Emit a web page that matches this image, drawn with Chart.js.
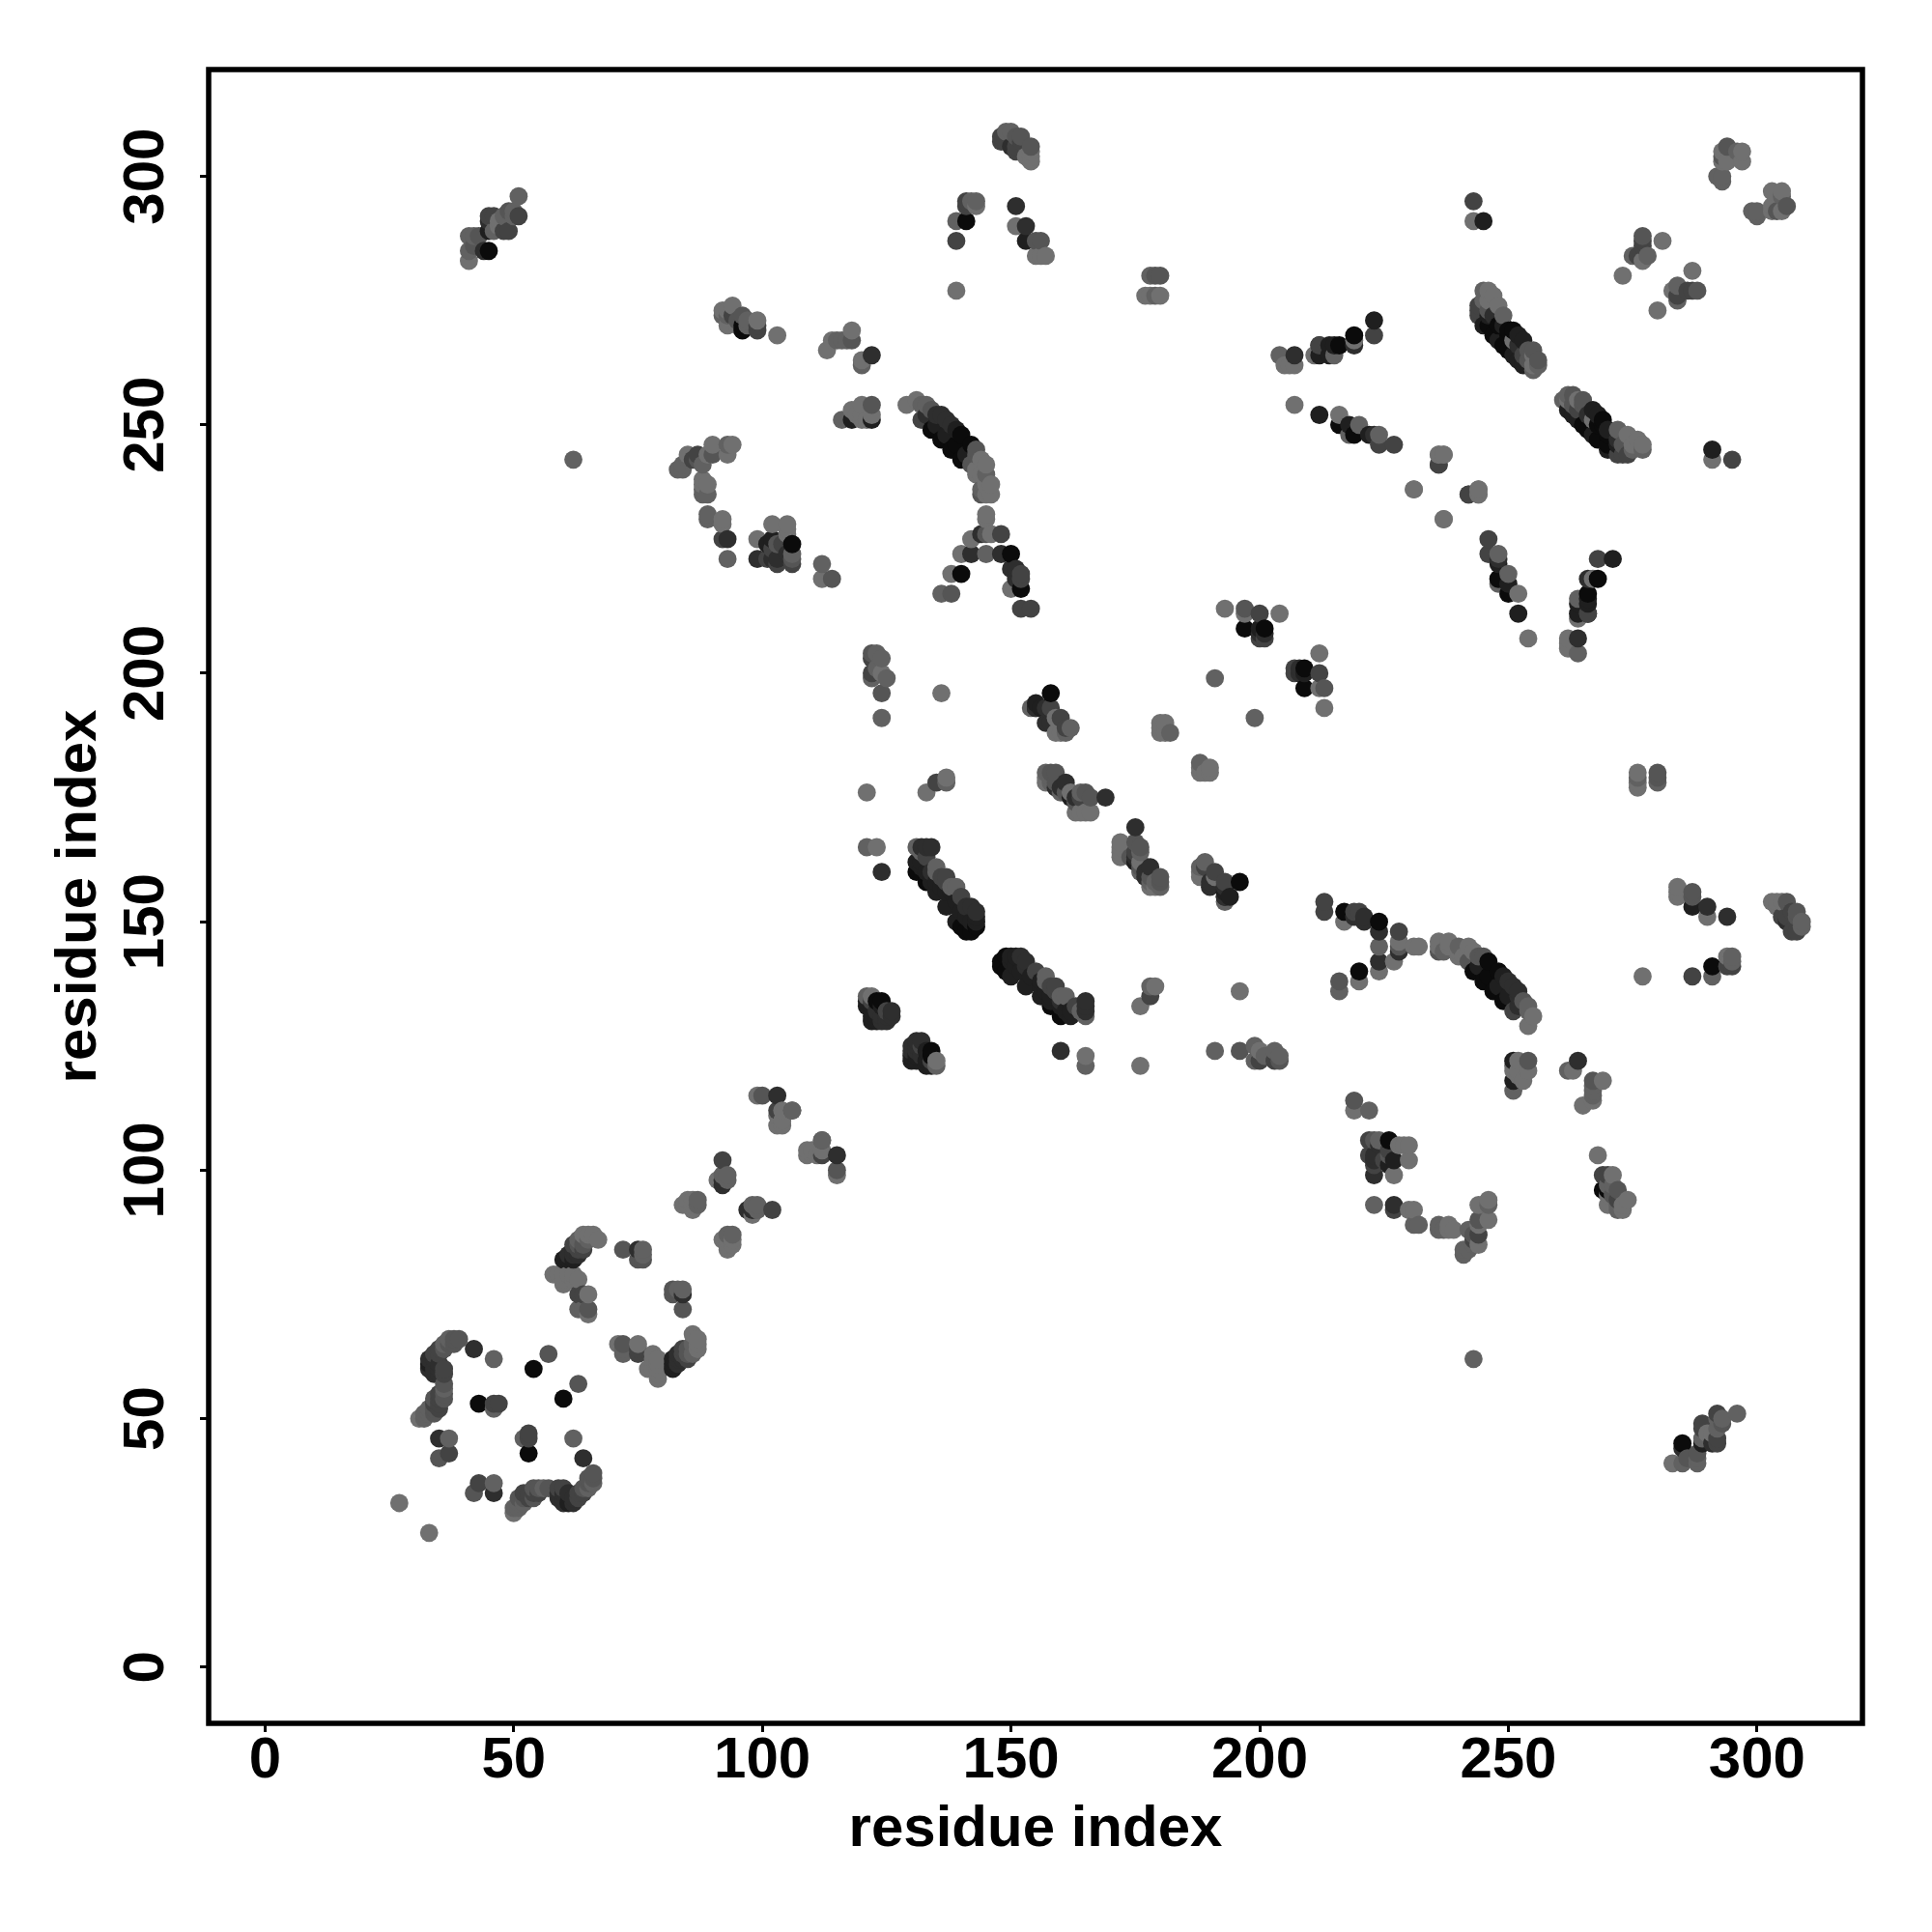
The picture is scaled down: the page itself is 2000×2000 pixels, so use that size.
<!DOCTYPE html>
<html>
<head>
<meta charset="utf-8">
<style>html,body{margin:0;padding:0;background:#fff}canvas{display:block}</style>
<script src="https://cdn.jsdelivr.net/npm/chart.js@4"></script>
</head>
<body>
<canvas id="c" width="2000" height="2000"></canvas>
<script>
// Contact map: each pair is [residue i, residue j]; the map is symmetric, so each contact is shown at (i,j) and (j,i).
const shadeA = [[54,60],[43,53],[123,134],[124,134],[158,196],[142,148],[143,149],[131,160],[133,158],[140,149],[141,148],[96,270],[96,269],[140,248],[142,246],[134,249],[136,247],[138,245],[139,246],[140,243],[150,224],[140,220],[152,217],[216,266],[219,268],[216,250],[219,248],[247,268],[248,270],[249,266],[250,268],[250,269],[251,269],[250,265],[246,270],[45,285],[141,291],[197,209],[201,209],[106,226]];
const shadeB = [[33,61],[60,82],[61,82],[62,82],[121,133],[121,134],[122,133],[122,131],[123,131],[124,133],[122,130],[123,130],[155,193],[156,193],[155,194],[162,175],[131,162],[132,162],[132,161],[133,160],[134,158],[135,158],[135,156],[136,157],[137,156],[137,153],[138,156],[139,154],[139,150],[140,152],[141,151],[142,150],[143,151],[143,150],[139,249],[135,250],[137,248],[141,244],[118,251],[122,251],[102,227],[101,226],[212,266],[212,264],[215,266],[214,266],[214,264],[223,271],[212,252],[218,250],[222,248],[245,291],[245,270],[246,272],[249,270],[251,264],[252,268],[253,267],[253,262],[252,263],[248,267],[45,289],[153,287],[200,209]];
const shadeC = [[33,62],[34,62],[35,59],[34,59],[34,60],[35,60],[33,60],[35,61],[42,64],[35,46],[61,83],[62,83],[63,83],[62,84],[75,84],[92,98],[92,97],[103,115],[123,132],[124,131],[125,131],[126,132],[126,131],[124,130],[125,130],[155,193],[157,193],[157,190],[158,190],[159,177],[160,177],[161,178],[163,175],[169,175],[124,160],[132,165],[133,165],[134,165],[134,160],[141,153],[142,153],[143,152],[122,264],[135,252],[136,252],[137,251],[138,250],[133,252],[144,228],[142,224],[148,224],[150,221],[151,221],[151,219],[93,227],[99,223],[102,223],[103,223],[105,224],[207,264],[219,266],[223,248],[247,272],[252,266],[44,285],[45,291],[150,306],[151,294],[153,290],[201,208],[200,208]];
const shadeD = [[34,53],[35,52],[35,53],[35,54],[36,60],[36,59],[34,63],[35,63],[35,64],[46,53],[47,53],[37,43],[35,55],[63,75],[64,75],[63,84],[64,84],[62,85],[92,102],[103,112],[122,134],[125,132],[122,200],[122,203],[158,193],[160,191],[161,189],[164,175],[135,178],[133,163],[136,159],[137,159],[137,158],[140,155],[132,251],[94,272],[99,270],[99,269],[148,228],[152,220],[152,219],[152,213],[154,213],[86,243],[87,244],[92,227],[101,223],[102,225],[103,222],[104,226],[106,222],[243,295],[212,266],[223,268],[224,246],[227,246],[236,242],[242,236],[244,274],[244,273],[244,272],[253,264],[51,292],[45,292],[46,292],[48,289],[49,289],[148,307],[148,308],[151,305],[151,306],[152,307],[141,295],[141,294],[139,287],[277,287],[276,284],[277,286],[200,212],[200,207],[201,207]];
const shadeE = [[34,51],[34,52],[36,54],[36,55],[36,57],[34,54],[36,64],[37,65],[38,65],[38,66],[39,66],[57,63],[35,42],[65,72],[63,85],[64,85],[72,84],[75,82],[76,82],[100,115],[112,106],[122,204],[124,196],[158,180],[159,180],[159,178],[161,176],[163,174],[165,176],[166,175],[134,253],[96,272],[95,271],[118,267],[143,245],[143,244],[144,236],[142,242],[145,228],[138,216],[122,254],[87,243],[90,244],[103,226],[106,223],[114,219],[254,265],[255,265],[254,263],[256,263],[246,273],[49,293],[42,286],[43,288],[151,308],[152,308],[154,306],[155,287],[156,287],[179,280],[180,280],[293,304],[294,306],[277,288],[197,213]];
const shadeF = [[32,50],[32,51],[33,51],[33,52],[36,56],[36,65],[37,66],[46,62],[46,52],[37,46],[63,72],[64,72],[63,86],[65,86],[76,84],[76,83],[87,94],[87,93],[92,99],[93,99],[93,98],[106,112],[121,135],[124,203],[122,199],[125,199],[123,201],[123,204],[124,191],[154,193],[162,189],[161,188],[191,199],[182,188],[137,178],[157,180],[158,179],[158,178],[160,176],[164,176],[121,165],[131,165],[132,164],[135,161],[135,160],[138,157],[139,157],[92,272],[93,272],[97,270],[97,271],[115,267],[116,267],[117,267],[120,262],[132,254],[133,254],[145,240],[144,237],[145,224],[136,216],[116,251],[83,241],[84,241],[84,242],[85,243],[88,242],[93,246],[88,237],[89,236],[88,236],[89,232],[89,231],[93,223],[106,224],[112,222],[62,243],[204,264],[215,264],[220,250],[218,248],[224,248],[245,277],[249,272],[245,275],[255,261],[256,262],[51,296],[48,292],[46,289],[41,288],[42,288],[41,285],[50,292],[50,293],[149,309],[150,309],[143,295],[142,295],[139,291],[179,276],[178,280],[293,299],[293,300],[292,300],[296,305],[278,284],[275,284]];
const shadeG = [[27,33],[31,50],[58,79],[59,79],[60,77],[60,78],[60,79],[61,79],[62,78],[62,79],[63,78],[65,75],[65,71],[64,87],[65,87],[66,87],[67,86],[84,93],[85,94],[86,94],[86,93],[86,92],[85,93],[91,98],[99,115],[104,112],[103,109],[104,109],[103,111],[104,110],[122,135],[124,200],[136,196],[159,191],[159,188],[160,188],[180,190],[181,190],[180,188],[181,188],[180,189],[121,176],[137,179],[133,176],[157,179],[157,178],[162,176],[163,172],[164,172],[165,172],[166,172],[123,165],[94,274],[92,273],[93,273],[93,270],[95,270],[99,271],[103,268],[118,269],[114,267],[113,265],[120,263],[129,254],[131,255],[144,243],[145,242],[144,240],[146,238],[145,238],[146,236],[145,236],[143,241],[143,240],[145,232],[145,231],[146,228],[142,227],[140,224],[138,220],[150,217],[118,253],[120,254],[120,252],[121,251],[122,252],[119,252],[120,251],[85,244],[90,246],[93,244],[94,246],[89,244],[88,239],[88,238],[89,238],[92,231],[92,230],[102,230],[105,230],[105,228],[105,229],[99,227],[112,219],[243,291],[207,262],[206,262],[205,262],[211,264],[207,254],[216,252],[219,267],[236,244],[237,244],[231,237],[244,237],[244,236],[237,231],[247,276],[246,277],[246,275],[248,274],[255,264],[255,262],[251,267],[41,283],[47,291],[47,290],[154,304],[153,304],[154,305],[154,303],[143,294],[151,290],[155,284],[157,284],[156,284],[139,277],[177,276],[178,276],[180,276],[293,303],[294,303],[293,305],[297,303],[297,305],[281,287],[273,280],[277,283],[193,213],[197,212],[204,212]];
const shadeColors = ['#0b0b0b','#1f1f1f','#2e2e2e','#434343','#555555','#616161','#707070'];
const shadeGroups = [shadeA,shadeB,shadeC,shadeD,shadeE,shadeF,shadeG];
const tickValues = [0,50,100,150,200,250,300];
const axisLabel = 'residue index';

const pts = [];
shadeGroups.forEach((group,s)=>group.forEach(([i,j])=>{
  pts.push({x:i,y:j,c:shadeColors[s]});
  pts.push({x:j,y:i,c:shadeColors[s]});
}));
pts.sort((a,b)=>a.x-b.x||a.y-b.y);

const font = {family:'"Liberation Sans"',weight:'bold',size:60};
const tickFont = {family:'"Liberation Sans"',weight:'bold',size:60,lineHeight:1};
const frame = {id:'frame',afterDatasetsDraw(ch){
  const a=ch.chartArea,c=ch.ctx;c.save();c.strokeStyle='#000';c.lineWidth=5.5;
  c.strokeRect(a.left,a.top,a.right-a.left,a.bottom-a.top);c.restore();
}};
const axis = (titlePad,extra)=>Object.assign({
  type:'linear',
  afterBuildTicks(s){s.ticks=tickValues.map(v=>({value:v}));},
  grid:{display:true,drawOnChartArea:false,drawTicks:true,tickLength:9,tickWidth:3,tickColor:'#000'},
  border:{display:false},
  title:{display:true,text:axisLabel,color:'#000',font,padding:titlePad}
},extra);

new Chart(document.getElementById('c'),{
  type:'scatter',
  data:{datasets:[{
    data:pts.map(p=>({x:p.x,y:p.y})),
    pointBackgroundColor:pts.map(p=>p.c),
    pointBorderWidth:0,
    pointRadius:9.4,
    pointHoverRadius:9.4
  }]},
  options:{
    responsive:false,animation:false,
    layout:{padding:{top:72,right:72,left:0,bottom:0}},
    plugins:{legend:{display:false},tooltip:{enabled:false}},
    scales:{
      x:axis({top:0,bottom:70},{min:-11.33,max:321.2,afterFit(s){s.height=216;},
        ticks:{color:'#000',font:tickFont,padding:0,autoSkip:false,callback:v=>String(v)}}),
      y:axis({top:46,bottom:0},{min:-11.33,max:321.5,afterFit(s){s.width=216;},
        ticks:{color:'#000',font:tickFont,padding:4,autoSkip:false,minRotation:90,maxRotation:90,crossAlign:'center',callback:v=>String(v)}})
    }
  },
  plugins:[frame]
});
</script>
</body>
</html>
